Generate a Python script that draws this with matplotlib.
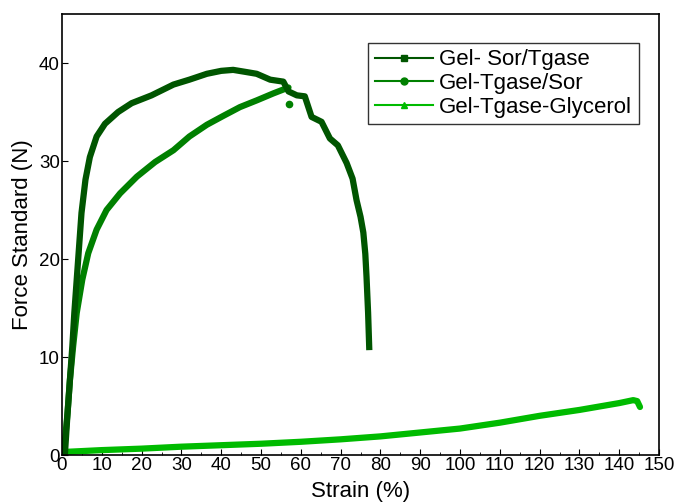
import matplotlib
matplotlib.use("Agg")
from matplotlib import pyplot as plt
from matplotlib.lines import Line2D
from matplotlib.ticker import MultipleLocator

plt.rcParams['font.family'] = ['Liberation Sans', 'DejaVu Sans']

# Gel- Sor/Tgase
sor_tgase_x = [0, 0.75, 1.4, 2.0, 2.6, 3.1, 3.7, 4.3, 4.9, 5.9, 7.0, 8.7, 10.8, 14.1, 17.5,
               22.5, 28.0, 32.0, 36.4, 40.0, 43.0, 46.0, 48.9, 52.3, 55.6, 56.9, 59.0,
               61.0, 62.7, 65.2, 67.3, 69.3, 71.5, 73.0, 74.0, 75.0, 75.7, 76.2, 76.5,
               76.9, 77.2]
sor_tgase_y = [0, 0.2, 4.3, 7.7, 11.1, 14.5, 17.9, 21.3, 24.7, 28.1, 30.4, 32.5, 33.8, 35.0, 35.9,
               36.7, 37.8, 38.3, 38.9, 39.2, 39.3, 39.1, 38.9, 38.3, 38.1, 37.1, 36.7,
               36.6, 34.5, 34.0, 32.3, 31.6, 29.8, 28.2, 26.0, 24.3, 22.7, 20.5, 18.2,
               14.5, 10.7]

# Gel-Tgase/Sor
tgase_sor_x = [0, 0.6, 1.4, 2.0, 2.8, 3.7, 5.1, 6.6, 8.7, 11.2, 14.6, 18.8, 23.4, 28.0,
               32.0, 36.4, 40.5, 44.7, 49.0, 53.1, 56.9]
tgase_sor_y = [0, 0.85, 4.3, 7.7, 11.1, 14.5, 17.9, 20.6, 23.0, 25.0, 26.7, 28.4, 29.9, 31.1,
               32.5, 33.7, 34.6, 35.5, 36.2, 36.9, 37.5]
tgase_sor_last = (57.0, 35.8)

# Gel-Tgase-Glycerol
glycerol_x = [0, 10, 20, 30, 40, 50, 60, 70, 80, 90, 100, 110, 120, 130, 140, 143.5, 144.5, 145.2]
glycerol_y = [0.3, 0.5, 0.65, 0.85, 1.0, 1.15, 1.35, 1.6, 1.9, 2.3, 2.7, 3.3, 4.0, 4.6, 5.3, 5.6, 5.5, 4.9]

names = ['Gel- Sor/Tgase', 'Gel-Tgase/Sor', 'Gel-Tgase-Glycerol']
colors = ['#005500', '#008000', '#00bb00']
markers = ['s', 'o', '^']

fig = plt.figure(figsize=(6.76, 5.04), dpi=100)
ax = fig.add_axes([0.0917, 0.0972, 0.8833, 0.875])

lw = 4.5
ax.plot(glycerol_x, glycerol_y, color=colors[2], lw=lw,
        solid_capstyle='round', solid_joinstyle='round')
ax.plot(tgase_sor_x, tgase_sor_y, color=colors[1], lw=lw,
        solid_capstyle='round', solid_joinstyle='round')
ax.plot([tgase_sor_last[0]], [tgase_sor_last[1]], 'o', color=colors[1], ms=4.5)
ax.plot(sor_tgase_x, sor_tgase_y, color=colors[0], lw=lw,
        solid_capstyle='butt', solid_joinstyle='round')

ax.set_xlim(0, 150)
ax.set_ylim(0, 45)
ax.xaxis.set_major_locator(MultipleLocator(10))
ax.xaxis.set_minor_locator(MultipleLocator(5))
ax.yaxis.set_major_locator(MultipleLocator(10))
ax.tick_params(axis='both', which='both', direction='in', labelsize=13.5, pad=1.5)
ax.tick_params(which='major', length=4)
ax.tick_params(which='minor', length=2)
ax.set_xlabel('Strain (%)', fontsize=16, labelpad=5)
ax.set_ylabel('Force Standard (N)', fontsize=16, labelpad=4)
for s in ax.spines.values():
    s.set_linewidth(1.2)

handles = [Line2D([0], [0], color=c, marker=m, ms=5, lw=1.5) for c, m in zip(colors, markers)]
leg = ax.legend(handles, names, loc='upper right', bbox_to_anchor=(0.985, 0.96),
                fontsize=16, frameon=True, fancybox=False, edgecolor='black',
                handlelength=2.6, labelspacing=0.12, borderpad=0.3, handletextpad=0.3)
leg.get_frame().set_linewidth(1.0)

fig.savefig('out.png', dpi=100)
